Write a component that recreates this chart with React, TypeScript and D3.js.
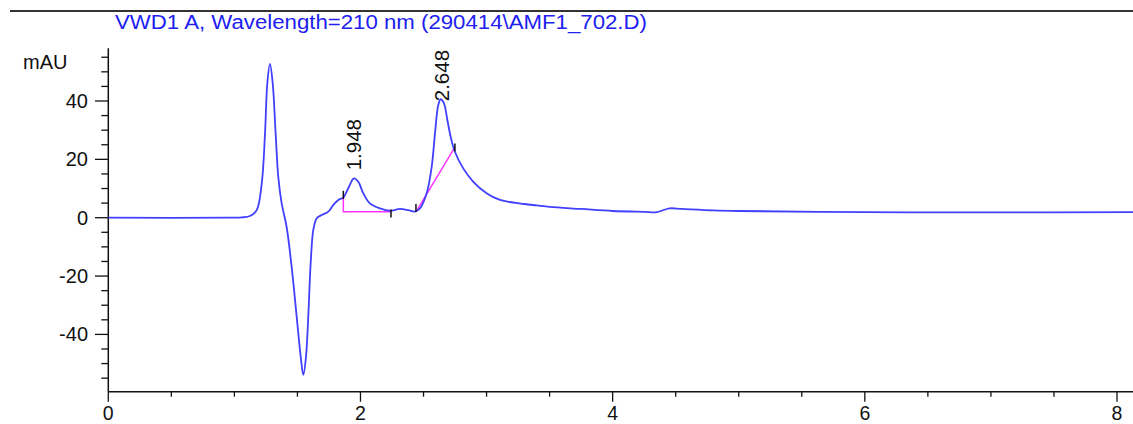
import React from 'react'
import * as d3 from 'd3'

// chromatogram trace (min, mAU)
const retTimes = [
  0, 0.965, 1.06, 1.124, 1.177, 1.217, 1.243, 1.261, 1.282, 1.304, 1.327, 1.348, 1.375,
  1.414, 1.454, 1.494, 1.526, 1.547, 1.568, 1.586, 1.605, 1.626, 1.653, 1.692,
  1.745, 1.785, 1.824, 1.864, 1.903, 1.948, 1.983, 2.022, 2.075, 2.155, 2.234,
  2.313, 2.379, 2.432, 2.472, 2.525, 2.565, 2.591, 2.617, 2.636, 2.662, 2.689,
  2.715, 2.749, 2.815, 2.895, 3.0, 3.106, 3.3, 3.4, 3.5, 3.75, 4.0, 4.25, 4.35,
  4.45, 4.55, 4.8, 5.0, 6.0, 7.0, 8.14
]
const signal = [
  0, 0, 0.1, 0.6, 2.6, 11.8, 29, 46, 52.7, 46, 29, 14, 4.9,
  -3.1, -16.8, -33.9, -47.6, -53.9, -47.6, -33.9, -15.6, -4.2, -0.2, 0.9,
  2.1, 4.4, 6.1, 6.9, 10.1, 13.5, 12.3, 8.4, 4.9, 3.2, 2.4,
  3.0, 2.6, 2.1, 3.2, 8.4, 17.5, 28.9, 38.6, 40.6, 39.2, 33.5,
  27.8, 22.6, 16.9, 12.3, 8.4, 6.1, 4.7, 4.2, 3.7, 3.0, 2.3, 2.0, 1.9,
  3.2, 3.0, 2.5, 2.3, 1.9, 1.8, 1.9
]

const peakTimes = [1.948, 2.648]
const peakLabels = ['1.948', '2.648']

// integration baselines
const baseTimes = [[1.864, 1.864, 2.242], [2.44, 2.749]]
const baseValues = [[6.9, 2.06, 2.06], [1.96, 24.2]]

// start / end markers
const markTimes = [1.864, 2.242, 2.44, 2.749]
const markValues = [7.85, 1.44, 3.3, 24.1]

const yMajor = [-40, -20, 0, 20, 40]
const xMajor = [0, 2, 4, 6, 8]

const title = 'VWD1 A, Wavelength=210 nm (290414\\AMF1_702.D)'

const W = 1133
const H = 424
const FONT = '"Liberation Sans", Arial, Helvetica, sans-serif'

export default function App() {
  const x = d3.scaleLinear().domain([0, 8]).range([108.3, 1117])
  const y = d3.scaleLinear().domain([0, 40]).range([217.7, 101])
  const top = 48.3
  const bottom = 391.7

  const pts: [number, number][] = retTimes.map((t, i) => [t, signal[i]])
  const line = d3.line<[number, number]>()
    .x(d => x(d[0]))
    .y(d => y(d[1]))
    .curve(d3.curveCatmullRom.alpha(0.5))

  const yMinor = d3.range(-55, 56, 5).filter(v => v % 20 !== 0)
  const xMinor = d3.range(0.5, 8.1, 0.5).filter(v => v % 2 !== 0)

  const apex = (t: number) => {
    const i = d3.minIndex(retTimes, r => Math.abs(r - t))
    return signal[i]
  }
  const labelGap = [8, -2]

  return (
    <svg width={W} height={H} style={{ position: 'absolute', left: 0, top: 0 }} fontFamily={FONT}>
      <rect width={W} height={H} fill="#fff" />
      <line x1={10} x2={W} y1={11} y2={11} stroke="#333" strokeWidth={2} />
      <text x={115} y={29.3} fontSize={20} fill="#2020f0" textLength={532} lengthAdjust="spacingAndGlyphs">{title}</text>
      <text x={23} y={69.3} fontSize={20} fill="#111">mAU</text>

      {/* y axis */}
      <line x1={108.3} x2={108.3} y1={top} y2={bottom} stroke="#111" strokeWidth={1.5} />
      {yMinor.map(v => (
        <line key={'ym' + v} x1={101.3} x2={108.3} y1={y(v)} y2={y(v)} stroke="#111" strokeWidth={1.3} />
      ))}
      {yMajor.map(v => (
        <g key={'yM' + v}>
          <line x1={95} x2={108.3} y1={y(v)} y2={y(v)} stroke="#111" strokeWidth={1.3} />
          <text x={88} y={y(v) + 7} fontSize={20} textAnchor="end" fill="#111">{v}</text>
        </g>
      ))}

      {/* x axis */}
      <line x1={108.3} x2={W} y1={bottom} y2={bottom} stroke="#111" strokeWidth={1.5} />
      {xMinor.map(v => (
        <line key={'xm' + v} x1={x(v)} x2={x(v)} y1={bottom} y2={bottom + 5} stroke="#111" strokeWidth={1.3} />
      ))}
      {xMajor.map(v => (
        <g key={'xM' + v}>
          <line x1={x(v)} x2={x(v)} y1={bottom} y2={bottom + 10} stroke="#111" strokeWidth={1.3} />
          <text x={x(v)} y={419.5} fontSize={19.5} textAnchor="middle" fill="#111">{v}</text>
        </g>
      ))}

      {/* integration baselines */}
      {baseTimes.map((ts, k) => (
        <path key={'b' + k}
          d={d3.line<number>().x(t => x(t)).y((_, i) => y(baseValues[k][i]))(ts) || ''}
          fill="none" stroke="#ff33ff" strokeWidth={1.5} />
      ))}

      <path d={line(pts) || ''} fill="none" stroke="#4040ff" strokeWidth={1.8} strokeLinejoin="round" />

      {markTimes.map((t, i) => (
        <line key={'mk' + i} x1={x(t)} x2={x(t)} y1={y(markValues[i]) - 4} y2={y(markValues[i]) + 4}
          stroke="#111" strokeWidth={1.5} />
      ))}

      {peakTimes.map((t, i) => {
        const px = x(t) + 7
        const py = y(apex(t)) - labelGap[i]
        return (
          <text key={'pl' + i} x={0} y={0} fontSize={20.5} fill="#111"
            transform={`translate(${px},${py}) rotate(-90)`}>{peakLabels[i]}</text>
        )
      })}
    </svg>
  )
}
